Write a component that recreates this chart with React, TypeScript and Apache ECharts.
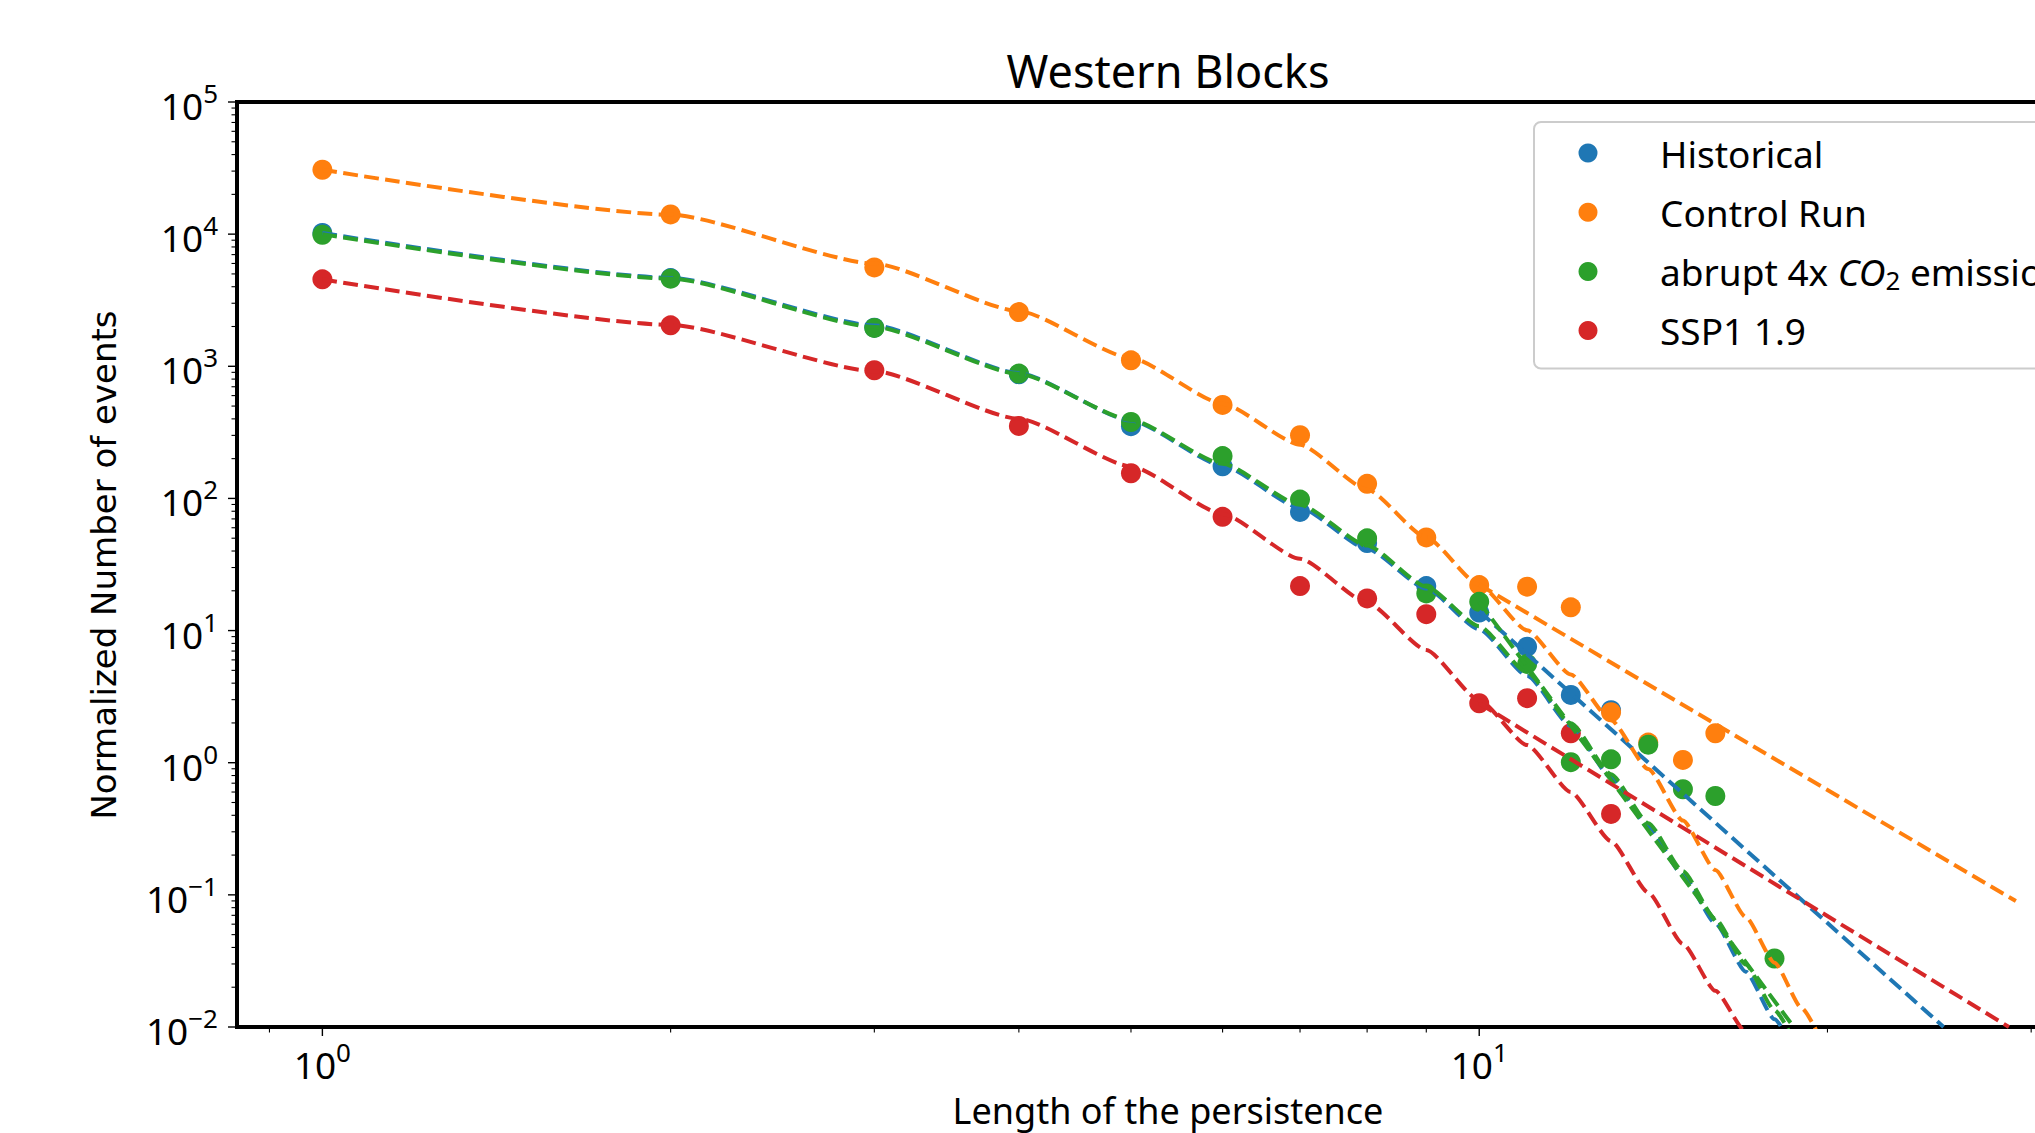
import React, { useEffect, useRef } from 'react';
import * as echarts from 'echarts';

const W = 2035;
const H = 1133;
const FONT = "'Noto Sans', 'DejaVu Sans', sans-serif";
const FONT_Y = "'DejaVu Sans', sans-serif";

// Axis extents
const X_MIN = 0.8437;
const X_MAX = 34.2;
const Y_MIN = 0.01;
const Y_MAX = 100000;

// Series names and colours
const seriesNames = ['Historical', 'Control Run', 'abrupt 4x CO2 emissions', 'SSP1 1.9'];
const colors = ['#1f77b4', '#ff7f0e', '#2ca02c', '#d62728'];

// Scatter points (length of persistence, normalized number of events)
const histX = [1, 2, 3, 4, 5, 6, 7, 8, 9, 10, 11, 12, 13];
const histY = [10200, 4650, 1960, 870, 352, 175, 79, 46, 21.7, 13.7, 7.55, 3.26, 2.5];
const ctrlX = [1, 2, 3, 4, 5, 6, 7, 8, 9, 10, 11, 12, 13, 14, 15, 16];
const ctrlY = [30700, 14100, 5600, 2570, 1110, 510, 301, 129, 50.7, 22.1, 21.5, 15, 2.41, 1.42, 1.05, 1.67];
const abrX = [1, 2, 3, 4, 5, 6, 7, 8, 9, 10, 11, 12, 13, 14, 15, 16, 18];
const abrY = [9890, 4600, 1950, 881, 379, 209, 98, 49.9, 19.1, 16.5, 5.59, 1.01, 1.06, 1.37, 0.63, 0.56, 0.033];
const sspX = [1, 2, 3, 4, 5, 6, 7, 8, 9, 10, 11, 12, 13];
const sspY = [4550, 2040, 933, 354, 155, 72.6, 21.7, 17.5, 13.3, 2.82, 3.08, 1.67, 0.41];

// Fitted curves
const histFitX = [1, 2, 3, 4, 5, 6, 7, 8, 9, 10, 11, 12, 13, 14, 15, 16, 17, 18, 19];
const histFitY = [10200, 4667, 2037, 889, 388, 177, 85, 41.6, 20.8, 10.2, 4.56, 1.9, 0.774, 0.327, 0.141, 0.0608, 0.0262, 0.01146, 0.005];
const ctrlFitX = [1, 2, 3, 4, 5, 6, 7, 8, 9, 10, 11, 12, 13, 14, 15, 16, 17, 18, 19, 20];
const ctrlFitY = [30700, 14030, 5984, 2612, 1153, 521, 255, 117, 50.7, 22.2, 10.05, 4.65, 2.1, 0.895, 0.365, 0.154, 0.0679, 0.0307, 0.01387, 0.00627];
const abrFitX = [1, 2, 3, 4, 5, 6, 7, 8, 9, 10, 11, 12, 13, 14, 15, 16, 17, 18, 19];
const abrFitY = [10000, 4603, 1986, 877, 392, 183, 89.7, 44, 21.5, 10.8, 4.82, 1.99, 0.818, 0.349, 0.151, 0.0658, 0.0297, 0.0134, 0.006];
const sspFitX = [1, 2, 3, 4, 5, 6, 7, 8, 9, 10, 11, 12, 13, 14, 15, 16, 17, 18];
const sspFitY = [4550, 2056, 918, 401, 175, 76.4, 34.9, 16.3, 7.13, 2.97, 1.36, 0.6, 0.255, 0.104, 0.0425, 0.0188, 0.00918, 0.0044];

// Power-law tail fits (x >= 10)
const histTailX = [10, 25.2];
const histTailY = [14, 0.01];
const ctrlTailX = [10, 29.1];
const ctrlTailY = [22.2, 0.0897];
const abrTailX = [10, 18.7];
const abrTailY = [16.5, 0.01];
const sspTailX = [10, 28.7];
const sspTailY = [2.82, 0.01];

// Tick positions
const xMajorTicks = [1, 10];
const xMinorTicks = [0.9, 2, 3, 4, 5, 6, 7, 8, 9, 20, 30];
const yMajorTicks = [0.01, 0.1, 1, 10, 100, 1000, 10000, 100000];
const yDecades = [0.01, 0.1, 1, 10, 100, 1000, 10000];
const mantissas = [2, 3, 4, 5, 6, 7, 8, 9];

const zip = (xs: number[], ys: number[]) => xs.map((x, i) => [x, ys[i]]);

const tickRich = {
  b: { fontSize: 37, fontFamily: FONT, color: '#000', lineHeight: 44, verticalAlign: 'bottom' },
  s: { fontSize: 26, fontFamily: FONT, color: '#000', lineHeight: 30, verticalAlign: 'top' },
};

const powFormatter = (v: number) => {
  const l = Math.log10(v);
  const e = Math.round(l);
  if (Math.abs(l - e) > 1e-6) return '';
  const es = e < 0 ? '\u2212' + -e : String(e);
  return `{b|10}{s|${es}}`;
};

const tickSeries = (data: number[][], kind: 'x' | 'y', len: number, width: number) => ({
  type: 'custom',
  coordinateSystem: 'cartesian2d',
  clip: false,
  silent: true,
  z: 10,
  data,
  renderItem: (params: any, api: any) => {
    const p = api.coord([api.value(0), api.value(1)]);
    const shape =
      kind === 'x'
        ? { x1: p[0], y1: p[1], x2: p[0], y2: p[1] + len }
        : { x1: p[0] - len, y1: p[1], x2: p[0], y2: p[1] };
    return { type: 'line', shape, style: { stroke: '#000', lineWidth: width } };
  },
});

export default function App() {
  const ref = useRef<HTMLDivElement>(null);

  useEffect(() => {
    if (!ref.current) return;
    const chart = echarts.init(ref.current, null, { renderer: 'svg', width: W, height: H });

    const scatterData = [zip(histX, histY), zip(ctrlX, ctrlY), zip(abrX, abrY), zip(sspX, sspY)];
    const fitData = [
      zip(histFitX, histFitY),
      zip(ctrlFitX, ctrlFitY),
      zip(abrFitX, abrFitY),
      zip(sspFitX, sspFitY),
    ];
    const tailData = [
      zip(histTailX, histTailY),
      zip(ctrlTailX, ctrlTailY),
      zip(abrTailX, abrTailY),
      zip(sspTailX, sspTailY),
    ];

    const scatters = seriesNames.map((name, i) => ({
      type: 'scatter',
      name,
      data: scatterData[i],
      symbol: 'circle',
      symbolSize: 20,
      itemStyle: { color: colors[i], opacity: 1 },
      z: 2,
      silent: true,
    }));

    const dash = { width: 4, type: [14.8, 6.4], cap: 'butt' };
    const lines: any[] = [];
    seriesNames.forEach((name, i) => {
      lines.push({
        type: 'line',
        name: name + ' fit',
        data: fitData[i],
        symbol: 'none',
        showSymbol: false,
        smooth: 0.2,
        smoothMonotone: 'x',
        lineStyle: { color: colors[i], ...dash },
        z: 3,
        silent: true,
      });
      lines.push({
        type: 'line',
        name: name + ' tail',
        data: tailData[i],
        symbol: 'none',
        showSymbol: false,
        lineStyle: { color: colors[i], ...dash },
        z: 3,
        silent: true,
      });
    });

    const yMinor: number[][] = [];
    yDecades.forEach((d) => mantissas.forEach((m) => yMinor.push([X_MIN, m * d])));

    const ticks = [
      tickSeries(xMajorTicks.map((v) => [v, Y_MIN]), 'x', 9, 1.4),
      tickSeries(xMinorTicks.map((v) => [v, Y_MIN]), 'x', 5.5, 1.1),
      tickSeries(yMajorTicks.map((v) => [X_MIN, v]), 'y', 9, 1.4),
      tickSeries(yMinor, 'y', 5.5, 1.1),
    ];

    const legendRich = {
      n: { fontSize: 37, fontFamily: FONT, color: '#000', lineHeight: 44 },
      i: { fontSize: 37, fontFamily: FONT, fontStyle: 'italic', color: '#000', lineHeight: 44 },
      sub: { fontSize: 26, fontFamily: FONT, color: '#000', lineHeight: 26, verticalAlign: 'bottom' },
    };

    chart.setOption({
      animation: false,
      backgroundColor: '#ffffff',
      grid: {
        left: 237,
        right: -62,
        top: 102,
        bottom: 106,
        containLabel: false,
        outerBoundsMode: 'none',
        show: true,
        borderColor: '#000',
        borderWidth: 4,
        backgroundColor: 'transparent',
      },
      xAxis: {
        type: 'log',
        logBase: 10,
        min: X_MIN,
        max: X_MAX,
        axisLine: { show: false },
        axisTick: { show: false },
        splitLine: { show: false },
        minorTick: { show: false },
        axisLabel: {
          show: true,
          margin: 12,
          formatter: powFormatter,
          rich: tickRich,
          hideOverlap: false,
          showMinLabel: true,
          showMaxLabel: true,
        },
      },
      yAxis: {
        type: 'log',
        logBase: 10,
        min: Y_MIN,
        max: Y_MAX,
        axisLine: { show: false },
        axisTick: { show: false },
        splitLine: { show: false },
        minorTick: { show: false },
        axisLabel: {
          show: true,
          margin: 19,
          formatter: powFormatter,
          rich: tickRich,
          hideOverlap: false,
          showMinLabel: true,
          showMaxLabel: true,
        },
      },
      legend: {
        data: seriesNames,
        orient: 'vertical',
        left: 1534,
        top: 122,
        padding: [9, 300, 16, 44.5],
        itemWidth: 19,
        itemHeight: 19,
        itemGap: 15.2,
        icon: 'circle',
        selectedMode: false,
        backgroundColor: 'rgba(255,255,255,0.8)',
        borderColor: '#cccccc',
        borderWidth: 2,
        borderRadius: 7,
        formatter: (name: string) =>
          name === 'abrupt 4x CO2 emissions'
            ? '{n|abrupt 4x }{i|CO}{sub|2}{n| emissions}'
            : `{n|${name}}`,
        textStyle: {
          fontSize: 37,
          fontFamily: FONT,
          color: '#000',
          lineHeight: 44,
          padding: [0, 0, 0, 57.5],
          rich: legendRich,
        },
      },
      graphic: [
        {
          type: 'text',
          x: 1168,
          y: 70,
          silent: true,
          style: {
            text: 'Western Blocks',
            fontSize: 45,
            fontFamily: FONT,
            fill: '#000',
            align: 'center',
            verticalAlign: 'middle',
          },
        },
        {
          type: 'text',
          x: 1168,
          y: 1110,
          silent: true,
          style: {
            text: 'Length of the persistence',
            fontSize: 36,
            fontFamily: FONT,
            fill: '#000',
            align: 'center',
            verticalAlign: 'middle',
          },
        },
        {
          type: 'text',
          x: 104,
          y: 565,
          rotation: Math.PI / 2,
          silent: true,
          style: {
            text: 'Normalized Number of events',
            fontSize: 34,
            fontFamily: FONT_Y,
            fill: '#000',
            align: 'center',
            verticalAlign: 'middle',
          },
        },
      ],
      series: [...scatters, ...lines, ...ticks],
    });

    return () => chart.dispose();
  }, []);

  return (
    <div
      style={{
        position: 'fixed',
        left: 0,
        top: 0,
        width: W,
        height: H,
        overflow: 'hidden',
        background: '#fff',
      }}
    >
      <div ref={ref} style={{ width: W, height: H }} />
    </div>
  );
}
